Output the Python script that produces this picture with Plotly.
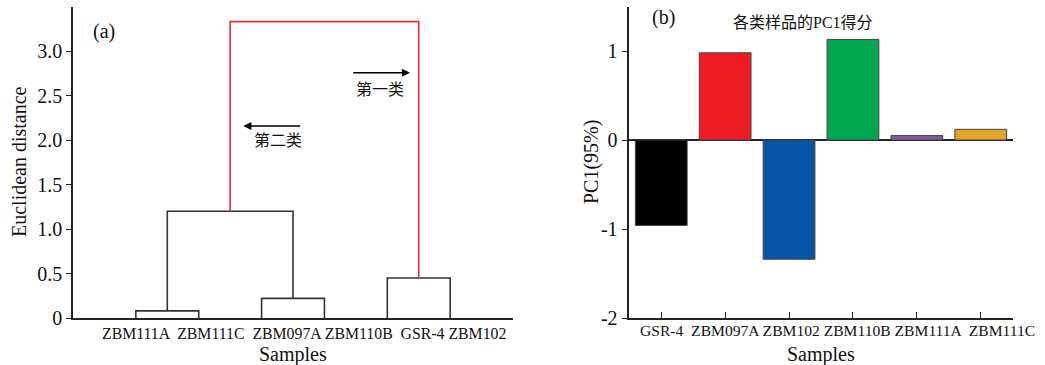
import plotly.graph_objects as go

# ---------------- data ----------------
# (a) hierarchical clustering dendrogram
leaf_labels = ["ZBM111A", "ZBM111C", "ZBM097A", "ZBM110B", "GSR-4", "ZBM102"]
# merges: (cluster_a, cluster_b, height); new clusters numbered from 6
linkage = [(0, 1, 0.08), (2, 3, 0.22), (4, 5, 0.45), (6, 7, 1.20), (9, 8, 3.33)]
merge_colors = ["#333333", "#333333", "#333333", "#333333", "#EE2A38"]
y_ticks_a = [0, 0.5, 1.0, 1.5, 2.0, 2.5, 3.0]
y_ticklabels_a = ["0", "0.5", "1.0", "1.5", "2.0", "2.5", "3.0"]

# (b) PC1 scores
samples = ["GSR-4", "ZBM097A", "ZBM102", "ZBM110B", "ZBM111A", "ZBM111C"]
pc1 = [-0.96, 0.98, -1.34, 1.13, 0.05, 0.12]
bar_colors = ["#000000", "#ED1C24", "#0654A6", "#00A650", "#7F57A6", "#E0A526"]
y_ticks_b = [-2, -1, 0, 1]
y_ticklabels_b = ["-2", "-1", "0", "1"]

FONT = "Liberation Serif, Times New Roman, Noto Sans CJK SC"
W, H = 1045, 365
SP1 = " "
SP2 = " \u00a0"

fig = go.Figure()

# ---------------- dendrogram ----------------
pos = {i: i + 1 for i in range(len(leaf_labels))}
hgt = {i: 0.0 for i in range(len(leaf_labels))}
n = len(leaf_labels)
for k, (a, b, h) in enumerate(linkage):
    xa, xb = pos[a], pos[b]
    fig.add_trace(go.Scatter(
        x=[xa, xa, xb, xb], y=[hgt[a], h, h, hgt[b]],
        mode="lines", line=dict(color=merge_colors[k], width=1.6),
        xaxis="x", yaxis="y", showlegend=False, hoverinfo="skip",
        cliponaxis=False))
    pos[n + k] = (xa + xb) / 2
    hgt[n + k] = h

# ---------------- bars ----------------
fig.add_trace(go.Bar(
    x=samples, y=pc1, marker=dict(color=bar_colors, line=dict(color="#444444", width=1)),
    width=0.81, xaxis="x2", yaxis="y2", showlegend=False, hoverinfo="x+y"))

ydom = [(H - 318) / H, (H - 6.5) / H]
line_common = dict(showgrid=False, linecolor="#222222", linewidth=1.5,
                   tickcolor="#222222", tickwidth=1.2, automargin=False)
tick20 = dict(tickfont=dict(family=FONT, size=20, color="#111111"))

fig.update_layout(
    width=W, height=H, margin=dict(l=0, r=0, t=0, b=0, autoexpand=False),
    paper_bgcolor="white", plot_bgcolor="white",
    font=dict(family=FONT, color="#111111"),
    xaxis=dict(domain=[73 / W, 513 / W], range=[0, 7], showline=True,
               showticklabels=False, ticks="", zeroline=False, anchor="y",
               **line_common),
    yaxis=dict(domain=ydom, range=[0, 3.5], showline=True, ticks="outside", ticklen=5,
               tickvals=y_ticks_a, ticktext=y_ticklabels_a, zeroline=False, anchor="x",
               **line_common, **tick20),
    xaxis2=dict(domain=[629.3 / W, 1012.7 / W], type="category", range=[-0.5, 5.5],
                showline=True, ticks="inside", ticklen=6, anchor="y2",
                showticklabels=False, **line_common),
    yaxis2=dict(domain=ydom, range=[-2, 1.5], showline=True, ticks="outside", ticklen=6,
                tickvals=y_ticks_b, ticktext=y_ticklabels_b, anchor="x2",
                zeroline=True, zerolinecolor="#222222", zerolinewidth=1.5,
                **line_common, **tick20),
)


def txt(text, px, py, size, angle=0, xanchor="center"):
    return dict(text=text, xref="paper", yref="paper", x=px / W, y=(H - py) / H,
                xanchor=xanchor, yanchor="middle", showarrow=False, textangle=angle,
                font=dict(family=FONT, size=size, color="#111111"))


# sample labels typed as a single spaced line, as in the original figure
gaps_a = [SP2, SP2, SP1, SP2, SP1]
label_a = leaf_labels[0] + "".join(g + s for g, s in zip(gaps_a, leaf_labels[1:]))
gaps_b = [SP2, SP1, SP1, SP1, SP2]
label_b = samples[0] + "".join(g + s for g, s in zip(gaps_b, samples[1:]))

ann = [
    txt(label_a, 100, 333, 15.8, xanchor="left"),
    txt(label_b, 638.3, 330, 15.6, xanchor="left"),
    txt("Samples", 293, 354, 20),
    txt("Samples", 821, 354, 20),
    txt("Euclidean distance", 19, 162, 20, -90),
    txt("PC1(95%)", 592, 162, 20, -90),
    txt("(a)", 104, 32, 20),
    txt("(b)", 663, 17, 20),
    txt("各类样品的PC1得分", 802.5, 23, 16),
]
# arrows and class labels
ann.append(dict(text="", xref="x", yref="y", axref="x", ayref="y",
                x=5.36, y=2.756, ax=4.434, ay=2.756, showarrow=True,
                arrowhead=2, arrowsize=1, arrowwidth=1.6, arrowcolor="#000000"))
ann.append(dict(text="", xref="x", yref="y", axref="x", ayref="y",
                x=2.71, y=2.157, ax=3.638, ay=2.157, showarrow=True,
                arrowhead=2, arrowsize=1, arrowwidth=1.6, arrowcolor="#000000"))
ann.append(dict(text="第一类", xref="x", yref="y", x=4.884, y=2.57, showarrow=False,
                xanchor="center", yanchor="middle", font=dict(family=FONT, size=16)))
ann.append(dict(text="第二类", xref="x", yref="y", x=3.266, y=1.989, showarrow=False,
                xanchor="center", yanchor="middle", font=dict(family=FONT, size=16)))
fig.update_layout(annotations=ann)

fig.write_html("out.html", config={"displayModeBar": False},
               post_script="document.body.style.margin='0';document.body.style.overflow='hidden';")
